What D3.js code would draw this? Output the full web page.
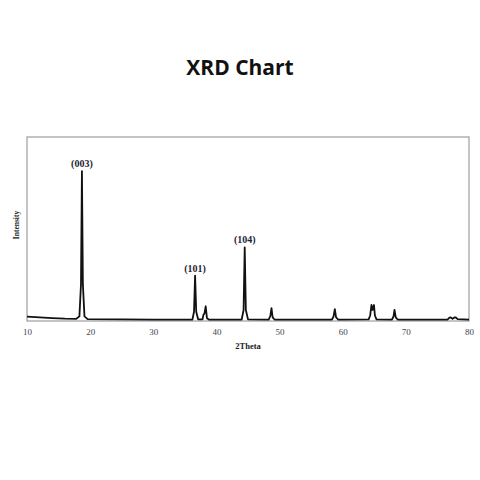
<!DOCTYPE html>
<html>
<head>
<meta charset="utf-8">
<script src="https://cdn.jsdelivr.net/npm/d3@7"></script>
<style>
  body { margin: 0; background: #fff; }
  svg { display: block; }
</style>
</head>
<body>
<div id="chart"></div>
<script>
// pattern: 2theta and relative intensity (0-100)
var twoTheta = [
  10, 12, 14, 16, 17.8, 18.3, 18.55, 18.7, 18.85, 19.1, 19.6, 25, 30,
  36.2, 36.45, 36.62, 36.8, 37.1, 37.8, 37.95, 38.1, 38.3, 38.5, 38.8,
  44.0, 44.3, 44.48, 44.66, 45.0,
  48.3, 48.55, 48.72, 48.9, 49.2,
  58.3, 58.55, 58.75, 58.95, 59.3,
  64.1, 64.35, 64.55, 64.72, 64.95, 65.1, 65.35,
  67.8, 68.05, 68.2, 68.4, 68.7,
  76.6, 76.9, 77.1, 77.4, 77.7, 77.9, 78.2, 80
];
var intensity = [
  2.4, 2.0, 1.6, 1.3, 1.2, 2.5, 20, 81.5, 20, 2.5, 1.0, 0.9, 0.8,
  0.8, 5, 24.6, 5, 0.9, 0.9, 3.5, 4, 8, 1.5, 0.8,
  0.8, 6, 40, 6, 0.9,
  0.8, 3, 7, 2, 0.8,
  0.8, 2.5, 6.5, 2, 0.8,
  0.9, 3, 8.7, 6, 8.7, 3, 0.9,
  0.8, 2.5, 6, 2, 0.8,
  0.8, 1.8, 1.9, 1.2, 1.9, 2.0, 1.0, 0.8
];
var peakLabels = ["(003)", "(101)", "(104)"];
var peakTheta = [18.7, 36.62, 44.48];
var peakTop = [81.5, 24.6, 40];
var xTicks = [10, 20, 30, 40, 50, 60, 70, 80];

var width = 480, height = 480;
var margin = { top: 137, right: 11, bottom: 159, left: 27 };
var innerW = width - margin.left - margin.right;
var innerH = height - margin.top - margin.bottom;

var svg = d3.select("#chart").append("svg")
  .attr("width", width)
  .attr("height", height);

svg.append("text")
  .attr("x", width / 2)
  .attr("y", 75)
  .attr("text-anchor", "middle")
  .style("font-family", "'Open Sans', sans-serif")
  .style("font-weight", "bold")
  .style("font-size", "21px")
  .style("fill", "#111")
  .text("XRD Chart");

var g = svg.append("g")
  .attr("transform", "translate(" + margin.left + "," + margin.top + ")");

var x = d3.scaleLinear().domain([10, 80]).range([0, innerW]);
var y = d3.scaleLinear().domain([0, 100]).range([innerH, 0]);

// frame
g.append("rect")
  .attr("width", innerW)
  .attr("height", innerH)
  .style("fill", "none")
  .style("stroke", "#8a8a8a")
  .style("stroke-width", 1);

var xAxis = g.append("g")
  .attr("transform", "translate(0," + innerH + ")")
  .call(d3.axisBottom(x).tickValues(xTicks).tickSize(0).tickPadding(8));
xAxis.select(".domain").remove();
xAxis.selectAll("text")
  .style("font-family", "'Liberation Serif', serif")
  .style("font-size", "9px")
  .style("fill", "#3f4552");

var points = twoTheta.map(function(t, i) {
  return [t, intensity[i]];
});

var line = d3.line()
  .x(function(d) { return x(d[0]); })
  .y(function(d) { return y(d[1]); });

g.append("path")
  .datum(points)
  .attr("d", line)
  .style("fill", "none")
  .style("stroke", "#111")
  .style("stroke-width", 1.8)
  .style("stroke-linejoin", "round");

g.selectAll("text.peak")
  .data(peakLabels)
  .enter()
  .append("text")
  .attr("class", "peak")
  .attr("x", function(d, i) { return x(peakTheta[i]); })
  .attr("y", function(d, i) { return y(peakTop[i]) - 4; })
  .attr("text-anchor", "middle")
  .style("font-family", "'Liberation Serif', serif")
  .style("font-weight", "bold")
  .style("font-size", "10px")
  .style("fill", "#1e2533")
  .text(function(d) { return d; });

// axis titles
svg.append("text")
  .attr("x", margin.left + innerW / 2)
  .attr("y", 349)
  .attr("text-anchor", "middle")
  .style("font-family", "'Liberation Serif', serif")
  .style("font-weight", "bold")
  .style("font-size", "8.5px")
  .style("fill", "#222")
  .text("2Theta");

svg.append("text")
  .attr("transform", "translate(19," + (margin.top + 88) + ") rotate(-90)")
  .attr("text-anchor", "middle")
  .style("font-family", "'Liberation Serif', serif")
  .style("font-weight", "bold")
  .style("font-size", "7.5px")
  .style("fill", "#222")
  .text("Intensity");
</script>
</body>
</html>
